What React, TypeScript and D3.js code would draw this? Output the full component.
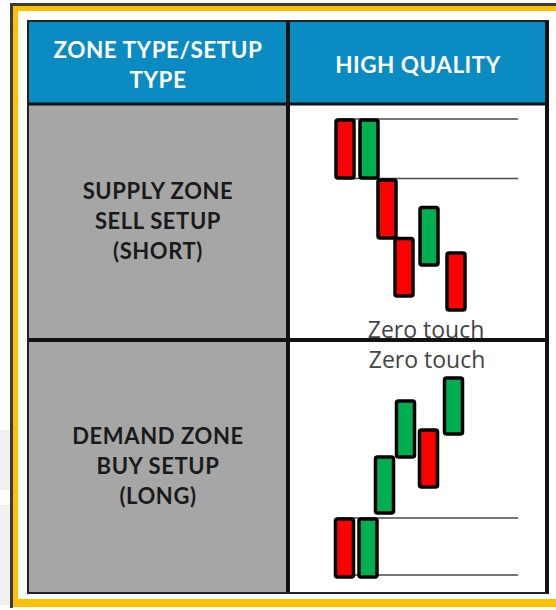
import React from "react";
import * as d3 from "d3";

// ---------- data ----------
const headerLeft = ["ZONE TYPE/SETUP", "TYPE"];
const headerRight = ["HIGH QUALITY"];
const rowLabels = [
  ["SUPPLY ZONE", "SELL SETUP", "(SHORT)"],
  ["DEMAND ZONE", "BUY SETUP", "(LONG)"],
];
const annotation = "Zero touch";

// candle time positions (arbitrary units) and open/close prices (0-100)
const supplyTimes = [15, 39, 57, 74, 99, 126];
const supplyOpen = [100, 69.5, 68.4, 37.6, 23.7, 30];
const supplyClose = [69.5, 100, 37.9, 7.4, 53.9, 0];
const supplyZone = [100.5, 69.2];

const demandTimes = [14.5, 38, 54.5, 75.5, 98.5, 123.5];
const demandOpen = [29.1, 0, 32.2, 60.3, 73.9, 71.9];
const demandClose = [0, 29.1, 60.3, 88.4, 45.2, 100];
const demandZone = [29.6, 1];
const zoneSpan = [7, 188];

export default function App() {
  const W = 556, H = 610;
  const tableL = 28, tableR = 548, tableT = 21, tableB = 593;
  const colX = 288, headB = 104, rowY = 340;

  const x = d3.scaleLinear().domain([0, 140]).range([330, 470]);
  const ySupply = d3.scaleLinear().domain([0, 100]).range([310, 120]);
  const yDemand = d3.scaleLinear().domain([0, 100]).range([577, 378]);
  const candleW = 18;

  const panel = (
    times: number[], opens: number[], closes: number[], zone: number[],
    y: d3.ScaleLinear<number, number>, key: string
  ) => (
    <g key={key}>
      {zone.map((z, i) => (
        <line key={i} x1={x(zoneSpan[0])} x2={x(zoneSpan[1])} y1={y(z)} y2={y(z)}
          stroke="#4a4a4a" strokeWidth={1.5} />
      ))}
      {times.map((t, i) => {
        const top = y(Math.max(opens[i], closes[i]));
        const bot = y(Math.min(opens[i], closes[i]));
        const up = closes[i] > opens[i];
        return (
          <rect key={i} x={x(t) - candleW / 2} y={top} width={candleW} height={bot - top}
            rx={2} fill={up ? "#00b050" : "#ff0000"} stroke="#000" strokeWidth={3.5} />
        );
      })}
    </g>
  );

  const boldFont = "Lato, 'Open Sans', sans-serif";
  const c1 = (tableL + colX) / 2;
  const c2 = (colX + tableR) / 2;

  return (
    <svg width={W} height={H} style={{ position: "absolute", left: 0, top: 0 }}>
      <rect x={0} y={0} width={W} height={H} fill="#ffffff" />
      <rect x={0} y={430} width={10} height={60} fill="#f0f0f0" />
      <rect x={0} y={505} width={10} height={100} fill="#f0f0f0" />
      {/* outer frame */}
      <rect x={10} y={3} width={W - 10} height={3} fill="#3a3a3a" />
      <rect x={10} y={3} width={3} height={605} fill="#3a3a3a" />
      <rect x={13} y={6} width={W - 13} height={5} fill="#ffc000" />
      <rect x={13} y={6} width={5} height={601} fill="#ffc000" />
      <rect x={13} y={599} width={W - 13} height={8} fill="#ffc000" />

      {/* cells */}
      <rect x={tableL} y={tableT} width={tableR - tableL} height={headB - tableT} fill="#0a8bc1" />
      <rect x={tableL} y={headB} width={colX - tableL} height={tableB - headB} fill="#a6a6a6" />

      {/* header text */}
      {headerLeft.map((s, i) => (
        <text key={i} x={c1} y={58 + i * 30} textAnchor="middle" fill="#fff"
          fontFamily={boldFont} fontWeight={700} fontSize={22.5} letterSpacing={0.5}>{s}</text>
      ))}
      {headerRight.map((s, i) => (
        <text key={i} x={c2} y={73} textAnchor="middle" fill="#fff"
          fontFamily={boldFont} fontWeight={700} fontSize={22.5} letterSpacing={0.5}>{s}</text>
      ))}

      {/* row labels */}
      {rowLabels.map((lines, r) =>
        lines.map((s, i) => (
          <text key={r + "-" + i} x={c1} y={(r === 0 ? 199 : 444) + i * 30} textAnchor="middle"
            fill="#1a1a1a" fontFamily={boldFont} fontWeight={700} fontSize={22} letterSpacing={0.6}>{s}</text>
        ))
      )}

      {/* candles */}
      {panel(supplyTimes, supplyOpen, supplyClose, supplyZone, ySupply, "s")}
      {panel(demandTimes, demandOpen, demandClose, demandZone, yDemand, "d")}

      <text x={426} y={338} textAnchor="middle" fill="#444" fontFamily="'Open Sans', sans-serif"
        fontSize={23}>{annotation}</text>
      <text x={427} y={368} textAnchor="middle" fill="#444" fontFamily="'Open Sans', sans-serif"
        fontSize={23}>{annotation}</text>

      {/* grid lines */}
      <line x1={tableL} x2={tableR} y1={headB} y2={headB} stroke="#111" strokeWidth={3} />
      <line x1={tableL} x2={tableR} y1={rowY} y2={rowY} stroke="#111" strokeWidth={4} />
      <line x1={colX} x2={colX} y1={tableT} y2={tableB} stroke="#111" strokeWidth={4} />
      <rect x={tableL} y={tableT} width={tableR - tableL} height={tableB - tableT}
        fill="none" stroke="#222" strokeWidth={2} />
      <line x1={tableR - 1} x2={tableR - 1} y1={tableT} y2={tableB} stroke="#111" strokeWidth={4} />
    </svg>
  );
}
